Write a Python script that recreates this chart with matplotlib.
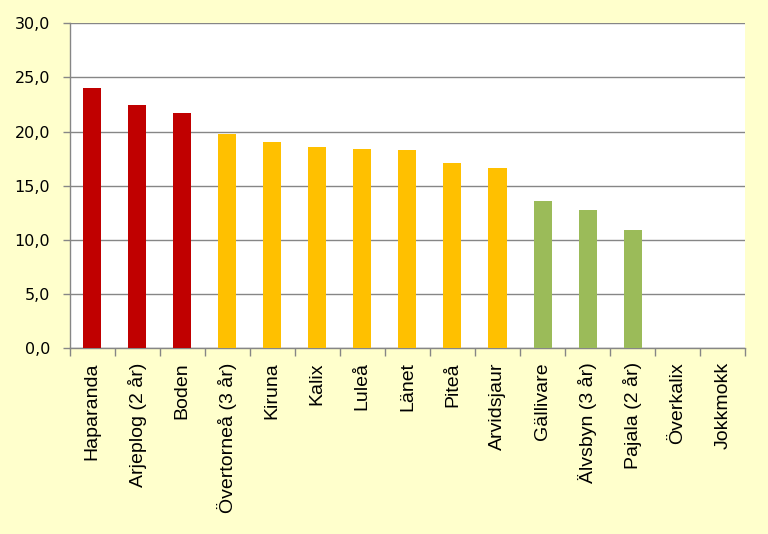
import matplotlib
matplotlib.use("Agg")
import matplotlib.pyplot as plt
from matplotlib.ticker import FixedLocator, FuncFormatter

categories = ["Haparanda", "Arjeplog (2 år)", "Boden", "Övertorneå (3 år)", "Kiruna",
              "Kalix", "Luleå", "Länet", "Piteå", "Arvidsjaur", "Gällivare",
              "Älvsbyn (3 år)", "Pajala (2 år)", "Överkalix", "Jokkmokk"]
values = [24.0, 22.5, 21.7, 19.8, 19.0, 18.6, 18.4, 18.3, 17.1, 16.6, 13.6, 12.8, 10.9, 0.0, 0.0]
groups = ["high"] * 3 + ["mid"] * 7 + ["low"] * 3 + ["none"] * 2
group_colors = {"high": "#C00000", "mid": "#FFC000", "low": "#9BBB59", "none": "#FFFFFF"}
yticks = [0, 5, 10, 15, 20, 25, 30]

fig = plt.figure(figsize=(7.68, 5.34), dpi=100)
fig.patch.set_facecolor("#FFFFCC")
ax = fig.add_axes([69.5 / 768, 1 - 348.3 / 534, (745.3 - 69.5) / 768, (348.3 - 23.3) / 534])
ax.set_facecolor("white")

x = list(range(len(categories)))
ax.bar(x, values, width=0.4, color=[group_colors[g] for g in groups], zorder=3)

ax.set_xlim(-0.5, len(categories) - 0.5)
ax.set_ylim(0, 30)
ax.yaxis.set_major_locator(FixedLocator(yticks))
ax.yaxis.set_major_formatter(FuncFormatter(lambda v, p: f"{v:.1f}".replace(".", ",")))
ax.grid(axis="y", color="#868686", linewidth=1.0, zorder=0)
ax.set_axisbelow(True)

for s in ["top", "right"]:
    ax.spines[s].set_visible(False)
for s in ["left", "bottom"]:
    ax.spines[s].set_color("#868686")
    ax.spines[s].set_linewidth(1.0)

ax.tick_params(axis="y", length=5, width=1, color="#868686", pad=9, labelsize=11.5,
               labelcolor="black")
for lab in ax.get_yticklabels():
    lab.set_family("DejaVu Sans")

ax.set_xticks([i - 0.5 for i in range(len(categories) + 1)])
ax.set_xticklabels([])
ax.set_xticks(x, minor=True)
ax.set_xticklabels(categories, minor=True, rotation=90, fontsize=14,
                   family="Liberation Sans", va="top", ha="center")
ax.tick_params(axis="x", which="major", length=5.5, width=1, color="#868686")
ax.tick_params(axis="x", which="minor", length=0, pad=10)

fig.savefig("out.png", dpi=100, facecolor=fig.get_facecolor())
